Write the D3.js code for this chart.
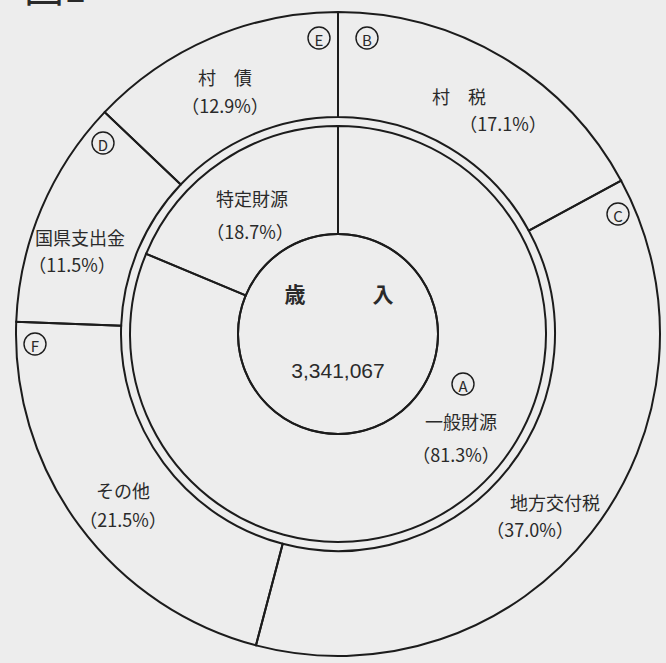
<!DOCTYPE html>
<html><head><meta charset="utf-8">
<script src="https://cdn.jsdelivr.net/npm/d3@7"></script>
<style>
html,body{margin:0;padding:0;background:#ededed;}
svg{display:block;}
text{font-family:"Noto Sans CJK JP","Noto Sans",sans-serif;fill:#2a2a2a;}
</style></head>
<body>
<script>
// ---- data ----
const centerTitle = ["歳", "入"];
const totalValue = 3341067;
const innerCats = ["一般財源", "特定財源"];
const innerVals = [81.3, 18.7];
const innerMarks = ["A", null];
const outerCats = ["村税", "地方交付税", "その他", "国県支出金", "村債"];
const outerVals = [17.1, 37.0, 21.5, 11.5, 12.9];
const outerMarks = ["B", "C", "F", "D", "E"];

// ---- layout ----
const W = 666, H = 663, cx = 338, cy = 334;
const rCenter = 100, rInnerOut = 208, rOuterIn = 217, rOuterOut = 322;
const svg = d3.select("body").append("svg").attr("width", W).attr("height", H);
const g = svg.append("g").attr("transform", `translate(${cx},${cy})`);
const stroke = "#1c1c1c";

const pie = d3.pie().sort(null).value(d => d.v);
const innerArc = d3.arc().innerRadius(rCenter).outerRadius(rInnerOut);
const outerArc = d3.arc().innerRadius(rOuterIn).outerRadius(rOuterOut);

const innerData = pie(innerCats.map((c, i) => ({c, v: innerVals[i]})));
const outerData = pie(outerCats.map((c, i) => ({c, v: outerVals[i]})));

g.selectAll("path.outer").data(outerData).join("path")
  .attr("class", "outer").attr("d", outerArc)
  .attr("fill", "none").attr("stroke", stroke).attr("stroke-width", 2);
g.selectAll("path.inner").data(innerData).join("path")
  .attr("class", "inner").attr("d", innerArc)
  .attr("fill", "none").attr("stroke", stroke).attr("stroke-width", 2);
g.append("circle").attr("r", rCenter).attr("fill", "none").attr("stroke", stroke).attr("stroke-width", 2);

// label placement (offsets from chart centre), per category
const innerLabelPos = {
  "一般財源": {name: [123, 87], pct: [118, 120], mark: [125, 50]},
  "特定財源": {name: [-86, -136], pct: [-88, -103]}
};
const outerLabelPos = {
  "村税": {name: [121, -238], pct: [165, -211], mark: [29, -296]},
  "地方交付税": {name: [217, 168], pct: [192, 195], mark: [280, -120]},
  "その他": {name: [-215, 156], pct: [-215, 185], mark: [-303, 10]},
  "国県支出金": {name: [-258, -97], pct: [-266, -70], mark: [-235, -191]},
  "村債": {name: [-113, -257], pct: [-113, -229], mark: [-19, -296]}
};
const fmtPct = v => "（" + v.toFixed(1) + "%）";
const spaced = s => s.length === 2 ? s[0] + "　" + s[1] : s;

function drawLabel(name, value, mark, pos) {
  g.append("text").attr("x", pos.name[0]).attr("y", pos.name[1])
    .attr("text-anchor", "middle").attr("dominant-baseline", "central")
    .attr("font-size", 18).text(spaced(name));
  g.append("text").attr("x", pos.pct[0]).attr("y", pos.pct[1])
    .attr("text-anchor", "middle").attr("dominant-baseline", "central")
    .attr("font-size", 18).text(fmtPct(value));
  if (mark && pos.mark) {
    g.append("circle").attr("cx", pos.mark[0]).attr("cy", pos.mark[1]).attr("r", 11)
      .attr("fill", "none").attr("stroke", stroke).attr("stroke-width", 1.4);
    g.append("text").attr("x", pos.mark[0]).attr("y", pos.mark[1] + 1)
      .attr("text-anchor", "middle").attr("dominant-baseline", "central")
      .attr("font-size", 15).text(mark);
  }
}
innerCats.forEach((c, i) => drawLabel(c, innerVals[i], innerMarks[i], innerLabelPos[c]));
outerCats.forEach((c, i) => drawLabel(c, outerVals[i], outerMarks[i], outerLabelPos[c]));

// centre
g.append("text").attr("x", -43).attr("y", -41).attr("text-anchor", "middle")
  .attr("dominant-baseline", "central").attr("font-size", 21).attr("font-weight", "bold").text(centerTitle[0]);
g.append("text").attr("x", 45).attr("y", -41).attr("text-anchor", "middle")
  .attr("dominant-baseline", "central").attr("font-size", 21).attr("font-weight", "bold").text(centerTitle[1]);
g.append("text").attr("x", 0).attr("y", 36).attr("text-anchor", "middle")
  .attr("dominant-baseline", "central").attr("font-size", 21)
  .style("font-family", "'Liberation Sans', Arial, sans-serif").text(d3.format(",")(totalValue));

// partially visible figure title (cut off at the top edge as in the reference)
svg.append("text").attr("x", 24).attr("y", 2).attr("font-size", 40).text("図1");
</script>
</body></html>
